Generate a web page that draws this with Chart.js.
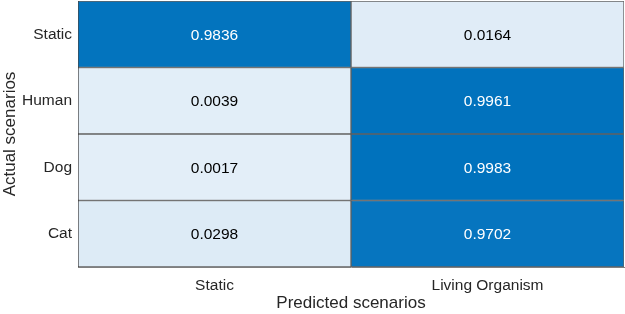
<!DOCTYPE html>
<html>
<head>
<meta charset="utf-8">
<script src="https://cdn.jsdelivr.net/npm/chart.js@4"></script>
<style>
  html, body { margin: 0; padding: 0; background: #fff; }
  #wrap { width: 625px; height: 314px; }
</style>
</head>
<body>
<div id="wrap"><canvas id="heat"></canvas></div>
<script>
// rows (actual) and columns (predicted)
const actualLabels = ['Static', 'Human', 'Dog', 'Cat'];
const predictedLabels = ['Static', 'Living Organism'];
// values per predicted column, one entry per actual row
const staticCol = [0.9836, 0.0039, 0.0017, 0.0298];
const livingCol = [0.0164, 0.9961, 0.9983, 0.9702];

const allVals = staticCol.concat(livingCol);
const vMin = Math.min(...allVals), vMax = Math.max(...allVals);
const lightC = [227, 238, 248];
const darkC = [0, 114, 189];

function cellColor(v) {
    let t = (v - vMin) / (vMax - vMin);
    let c = lightC.map((l, i) => Math.round(l + (darkC[i] - l) * t));
    return `rgb(${c[0]},${c[1]},${c[2]})`;
}

function makeDataset(col, vals) {
    return {
        label: predictedLabels[col],
        data: vals.map(() => [col, col + 1]),
        values: vals,
        backgroundColor: vals.map(cellColor),
        borderColor: 'rgba(50,50,50,0.75)',
        borderWidth: 1,
        borderSkipped: false,
        barPercentage: 1,
        categoryPercentage: 1,
        grouped: false
    };
}

// draws the number in the middle of every cell
const cellText = {
    id: 'cellText',
    afterDatasetsDraw(chart) {
        const ctx = chart.ctx;
        ctx.save();
        ctx.font = '15.5px "Liberation Sans", Arial, sans-serif';
        ctx.textAlign = 'center';
        ctx.textBaseline = 'middle';
        chart.data.datasets.forEach((ds, di) => {
            chart.getDatasetMeta(di).data.forEach((bar, i) => {
                const v = ds.values[i];
                const t = (v - vMin) / (vMax - vMin);
                ctx.fillStyle = t > 0.5 ? '#ffffff' : '#000000';
                const p = bar.getProps(['x', 'y', 'base'], true);
                ctx.fillText(v.toFixed(4), (p.x + p.base) / 2, p.y + 1);
            });
        });
        ctx.restore();
    }
};

const ctx = document.getElementById('heat').getContext('2d');
new Chart(ctx, {
    type: 'bar',
    data: {
        labels: actualLabels,
        datasets: [makeDataset(0, staticCol), makeDataset(1, livingCol)]
    },
    options: {
        indexAxis: 'y',
        responsive: true,
        maintainAspectRatio: false,
        animation: false,
        layout: { padding: { top: 1, right: 1, left: 0, bottom: 0 } },
        plugins: {
            legend: { display: false },
            tooltip: { enabled: false }
        },
        scales: {
            x: {
                type: 'linear',
                min: 0,
                max: predictedLabels.length,
                grid: { display: false, drawTicks: false },
                border: { display: true, color: '#7f7f7f', width: 1 },
                afterBuildTicks: axis => {
                    axis.ticks = predictedLabels.map((_, i) => ({ value: i + 0.5 }));
                },
                afterFit: axis => {
                    axis.height = 47;
                    axis.paddingLeft = 0;
                    axis.paddingRight = 0;
                },
                ticks: {
                    autoSkip: false,
                    maxRotation: 0,
                    padding: 9,
                    color: '#262626',
                    font: { family: '"Liberation Sans", Arial, sans-serif', size: 15.5 },
                    callback: (val) => predictedLabels[Math.floor(val)]
                },
                title: {
                    display: true,
                    text: 'Predicted scenarios',
                    color: '#262626',
                    padding: 0,
                    font: { family: '"Liberation Sans", Arial, sans-serif', size: 17 }
                }
            },
            y: {
                type: 'category',
                grid: { display: false, drawTicks: false },
                border: { display: true, color: '#7f7f7f', width: 1 },
                afterFit: axis => {
                    axis.width = 78;
                    axis.paddingTop = 0;
                    axis.paddingBottom = 0;
                },
                ticks: {
                    padding: 6,
                    color: '#262626',
                    font: { family: '"Liberation Sans", Arial, sans-serif', size: 15.5 }
                },
                title: {
                    display: true,
                    text: 'Actual scenarios',
                    color: '#262626',
                    padding: 0,
                    font: { family: '"Liberation Sans", Arial, sans-serif', size: 17 }
                }
            }
        }
    },
    plugins: [cellText]
});
</script>
</body>
</html>
